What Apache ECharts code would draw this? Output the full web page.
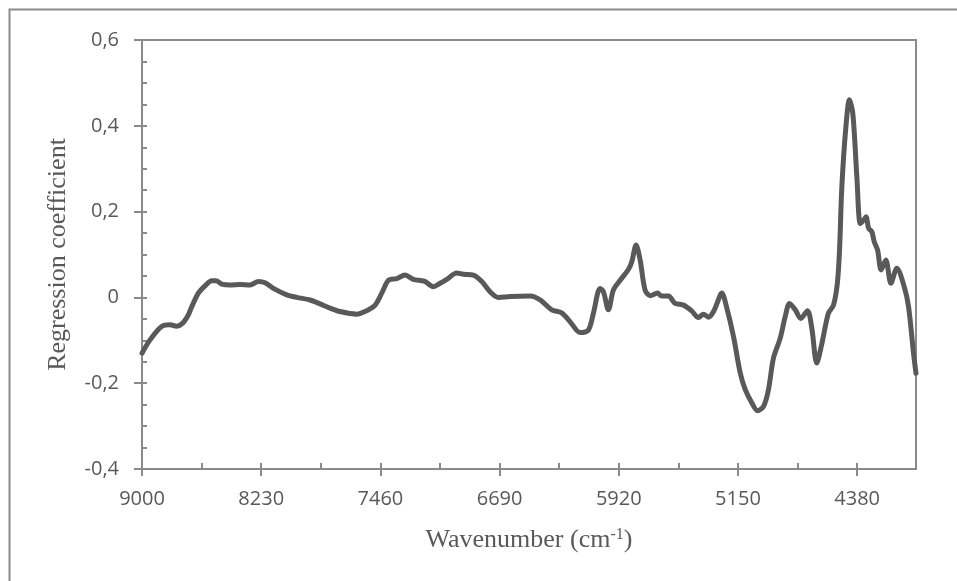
<!DOCTYPE html>
<html>
<head>
<meta charset="utf-8">
<script src="https://cdn.jsdelivr.net/npm/echarts@6/dist/echarts.min.js"></script>
<style>
  html, body { margin: 0; padding: 0; background: #ffffff; }
  #chart { width: 957px; height: 581px; }
</style>
</head>
<body>
<div id="chart"></div>
<script>
// Wavenumbers (cm-1) and PLS regression coefficients
const wavenumbers = [
  9000, 8948, 8873, 8819, 8776, 8737, 8701, 8679, 8636, 8593,
  8550, 8522, 8485, 8431, 8367, 8302, 8248, 8205, 8151, 8065,
  8000, 7914, 7850, 7785, 7721, 7613, 7548, 7494, 7451, 7408,
  7354, 7301, 7247, 7193, 7171, 7118, 7074, 7031, 6967, 6924,
  6859, 6805, 6751, 6698, 6622, 6493, 6428, 6353, 6289, 6234,
  6170, 6116, 6084, 6041, 6019, 5987, 5955, 5911, 5858, 5836,
  5808, 5782, 5750, 5717, 5670, 5643, 5599, 5556, 5502, 5448,
  5405, 5373, 5341, 5308, 5265, 5254, 5222, 5179, 5135, 5103,
  5060, 5024, 4985, 4953, 4921, 4877, 4845, 4817, 4780, 4744,
  4701, 4673, 4641, 4610, 4566, 4533, 4508, 4494, 4479, 4453,
  4430, 4408, 4382, 4360, 4339, 4323, 4306, 4285, 4270, 4248,
  4225, 4195, 4162, 4124, 4076, 4048, 4016, 4000
];
const coefficients = [
  -0.130, -0.099, -0.068, -0.064, -0.067, -0.060, -0.041, -0.022, 0.010, 0.027,
  0.039, 0.039, 0.031, 0.029, 0.030, 0.029, 0.037, 0.034, 0.021, 0.006,
  0.000, -0.006, -0.015, -0.025, -0.033, -0.039, -0.031, -0.018, 0.010, 0.040,
  0.044, 0.052, 0.042, 0.039, 0.037, 0.025, 0.033, 0.042, 0.057, 0.054,
  0.052, 0.037, 0.013, 0.000, 0.002, 0.003, -0.006, -0.029, -0.036, -0.057,
  -0.082, -0.076, -0.037, 0.021, 0.013, -0.029, 0.017, 0.040, 0.065, 0.083,
  0.122, 0.087, 0.017, 0.004, 0.010, 0.003, 0.003, -0.014, -0.018, -0.032,
  -0.047, -0.039, -0.046, -0.033, 0.005, 0.010, -0.025, -0.091, -0.177, -0.215,
  -0.246, -0.264, -0.254, -0.215, -0.142, -0.095, -0.045, -0.014, -0.029, -0.049,
  -0.031, -0.072, -0.153, -0.111, -0.037, -0.018, 0.033, 0.110, 0.258, 0.397,
  0.461, 0.428, 0.281, 0.172, 0.180, 0.188, 0.161, 0.153, 0.130, 0.110,
  0.064, 0.087, 0.033, 0.068, 0.025, -0.022, -0.130, -0.177
];
// Axis ticks
const xTickLabels = [9000, 8230, 7460, 6690, 5920, 5150, 4380];
const yTickLabels = ['-0,4', '-0,2', '0', '0,2', '0,4', '0,6'];

const axisGray = '#8a8a8a';
const textGray = '#595959';
const labelFont = '"Open Sans", "Noto Sans", sans-serif';
const serifFont = '"Liberation Serif", "DejaVu Serif", serif';

// The x axis runs from high to low wavenumber; plotting -wavenumber keeps
// the ticks stepping down from 9000.
const xMin = -wavenumbers[0];
const xMax = -wavenumbers[wavenumbers.length - 1];
const xStep = xTickLabels[0] - xTickLabels[1];

const lineData = wavenumbers.map((w, i) => [-w, coefficients[i]]);

const chart = echarts.init(document.getElementById('chart'), null, { renderer: 'canvas' });

chart.setOption({
  animation: false,
  backgroundColor: '#ffffff',
  graphic: [{
    type: 'rect',
    shape: { x: 9.5, y: 9.5, width: 1000, height: 1000 },
    style: { fill: null, stroke: axisGray, lineWidth: 2 },
    silent: true
  }],
  grid: {
    left: 142, top: 40, width: 774, height: 429,
    show: true, borderColor: axisGray, borderWidth: 2,
    containLabel: false
  },
  xAxis: [{
    type: 'value',
    min: xMin, max: xMax, interval: xStep,
    position: 'bottom',
    axisLine: { show: true, onZero: false, lineStyle: { color: axisGray, width: 2 } },
    axisTick: { show: true, inside: false, length: 7, lineStyle: { color: axisGray, width: 2 } },
    axisLabel: {
      show: true, margin: 20, color: textGray, fontFamily: labelFont, fontSize: 20,
      showMaxLabel: false,
      formatter: v => (xTickLabels.indexOf(-v) >= 0 ? String(-v) : '')
    },
    splitLine: { show: false },
    name: '{a|Wavenumber (cm}{s|-1}{a|)}',
    nameLocation: 'middle',
    nameGap: 58,
    nameTextStyle: {
      rich: {
        a: { fontFamily: serifFont, fontSize: 26, color: textGray },
        s: { fontFamily: serifFont, fontSize: 16, color: textGray, verticalAlign: 'top' }
      }
    }
  }, {
    type: 'value',
    min: xMin, max: xMax, interval: xStep / 2,
    position: 'bottom', offset: 0,
    axisLine: { show: false, onZero: false },
    axisTick: { show: true, inside: true, length: 6, lineStyle: { color: axisGray, width: 2 } },
    axisLabel: { show: false },
    splitLine: { show: false }
  }],
  yAxis: [{
    type: 'value',
    min: -0.4, max: 0.6, interval: 0.2,
    position: 'left',
    axisLine: { show: true, onZero: false, lineStyle: { color: axisGray, width: 2 } },
    axisTick: { show: true, inside: false, length: 8, lineStyle: { color: axisGray, width: 2 } },
    axisLabel: {
      show: true, margin: 23, color: textGray, fontFamily: labelFont, fontSize: 20,
      formatter: v => yTickLabels[Math.round((v + 0.4) / 0.2)]
    },
    splitLine: { show: false },
    name: 'Regression coefficient',
    nameLocation: 'middle',
    nameRotate: 90,
    nameGap: 71,
    nameTextStyle: { fontFamily: serifFont, fontSize: 26, color: textGray }
  }, {
    type: 'value',
    min: -0.4, max: 0.6, interval: 0.05,
    position: 'left', offset: 0,
    axisLine: { show: false, onZero: false },
    axisTick: { show: true, inside: true, length: 5, lineStyle: { color: axisGray, width: 2 } },
    axisLabel: { show: false },
    splitLine: { show: false }
  }],
  series: [{
    type: 'line',
    xAxisIndex: 0,
    yAxisIndex: 0,
    data: lineData,
    smooth: 0.3,
    symbol: 'none',
    lineStyle: { color: '#595959', width: 5, cap: 'round', join: 'round' }
  }]
});
</script>
</body>
</html>
